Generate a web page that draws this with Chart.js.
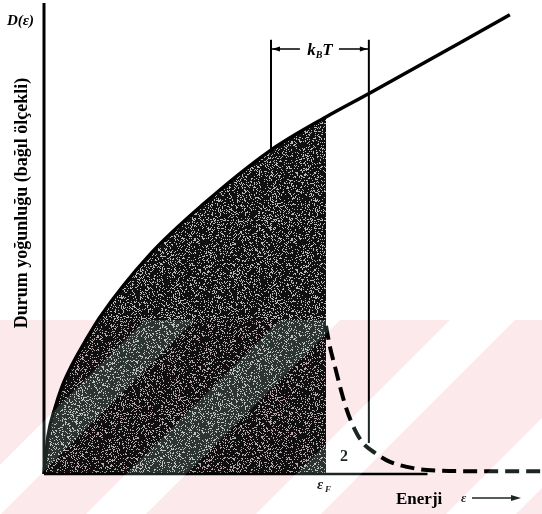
<!DOCTYPE html>
<html>
<head>
<meta charset="utf-8">
<script src="https://cdn.jsdelivr.net/npm/chart.js@4/dist/chart.umd.min.js"></script>
<style>
  html, body { margin: 0; padding: 0; background: #ffffff; }
  #wrap { width: 542px; height: 514px; position: relative; }
  canvas { display: block; }
</style>
</head>
<body>
<div id="wrap"><canvas id="c" width="542" height="514"></canvas></div>
<script>
// ---- Data (energy in units of eF, D in units of D(eF)) ----
const dosEnergy = [0, 0.014, 0.039, 0.064, 0.099, 0.145, 0.199, 0.376, 0.564, 0.801, 1.0, 1.156, 1.652];
const dosValue  = [0, 0.105, 0.185, 0.245, 0.305, 0.370, 0.440, 0.615, 0.755, 0.905, 1.0, 1.067, 1.286];
const fermiEnergy = 1.0;
const tailEnergy = [1.0, 1.014, 1.032, 1.050, 1.074, 1.103, 1.131, 1.174, 1.227, 1.287, 1.358, 1.511, 1.766];
const tailValue  = [0.415, 0.356, 0.300, 0.244, 0.179, 0.123, 0.087, 0.059, 0.034, 0.020, 0.011, 0.008, 0.008];
const kTEnergies = [0.805, 1.152];      // left / right kBT markers
const kTBottoms  = [0.906, 0.087];      // where each marker meets its curve
const kTTop = 1.216;
const kTArrowLevel = 1.19;
const baselineEnd = 1.36;
const axisMax = { x: 1.766, y: 1.319 };
const labels = {
  yTitle: 'Durum yoğunluğu (bağıl ölçekli)',
  yName: 'D(ε)',
  xTitle: 'Enerji',
  fermi: 'ε',
  fermiSub: 'F',
  region: '2',
  kT: ['k', 'B', 'T']
};

// ---- helpers ----
const pts = (xs, ys) => xs.map((x, i) => ({ x, y: ys[i] }));
const filledPts = pts(dosEnergy, dosValue).filter(p => p.x <= fermiEnergy);

function makeSpeckle() {
  const c = document.createElement('canvas');
  c.width = 97; c.height = 97;
  const g = c.getContext('2d');
  const img = g.createImageData(97, 97);
  for (let i = 0; i < 97 * 97; i++) {
    const h = (Math.imul(i + 17, 2654435761) ^ Math.imul(i >>> 3, 40503)) >>> 0;
    const light = (h % 100) < 21;
    const v = light ? 185 : 16;
    img.data[i * 4] = v; img.data[i * 4 + 1] = v; img.data[i * 4 + 2] = v; img.data[i * 4 + 3] = 255;
  }
  g.putImageData(img, 0, 0);
  return g;
}
const speckleCtx = makeSpeckle();
const ctxMain = document.getElementById('c').getContext('2d');
const shadePattern = ctxMain.createPattern(speckleCtx.canvas, 'repeat');

const SERIF = '"Liberation Serif", "DejaVu Serif", serif';

const decorPlugin = {
  id: 'decor',
  beforeDraw(chart) {
    const g = chart.ctx;
    g.save();
    g.fillStyle = '#ffffff';
    g.fillRect(0, 0, chart.width, chart.height);
    g.restore();
  },
  afterDatasetsDraw(chart) {
    const g = chart.ctx;
    const xs = chart.scales.x, ys = chart.scales.y;
    g.save();
    g.fillStyle = '#000'; g.strokeStyle = '#000';
    // kBT arrows
    const yA = ys.getPixelForValue(kTArrowLevel);
    const xL = xs.getPixelForValue(kTEnergies[0]);
    const xR = xs.getPixelForValue(kTEnergies[1]);
    const xc = (xL + xR) / 2;
    g.lineWidth = 1.5;
    g.beginPath();
    g.moveTo(xL, yA); g.lineTo(xc - 20, yA);
    g.moveTo(xc + 19, yA); g.lineTo(xR, yA);
    g.stroke();
    const head = (x, dir) => {
      g.beginPath();
      g.moveTo(x, yA);
      g.lineTo(x + dir * 8, yA - 2.5);
      g.lineTo(x + dir * 8, yA + 2.5);
      g.closePath(); g.fill();
    };
    head(xL + 1, 1); head(xR - 1, -1);
    // kBT text
    g.textBaseline = 'alphabetic';
    g.font = 'italic bold 17px ' + SERIF;
    const wk = g.measureText(labels.kT[0]).width;
    g.font = 'italic bold 10px ' + SERIF;
    const wb = g.measureText(labels.kT[1]).width;
    g.font = 'italic bold 17px ' + SERIF;
    const wt = g.measureText(labels.kT[2]).width;
    let tx = xc - (wk + wb + wt) / 2;
    const tb = yA + 6;
    g.fillText(labels.kT[0], tx, tb); tx += wk;
    g.font = 'italic bold 10px ' + SERIF;
    g.fillText(labels.kT[1], tx, tb + 3); tx += wb;
    g.font = 'italic bold 17px ' + SERIF;
    g.fillText(labels.kT[2], tx, tb);
    // D(e)
    g.font = 'italic bold 15px ' + SERIF;
    g.textAlign = 'left';
    g.fillText(labels.yName, 7, 25);
    // y title
    g.save();
    g.translate(27, 203);
    g.rotate(-Math.PI / 2);
    g.textAlign = 'center';
    g.font = 'bold 18px ' + SERIF;
    g.fillText(labels.yTitle, 0, 0);
    g.restore();
    // eF label
    const xF = xs.getPixelForValue(fermiEnergy);
    g.font = 'italic bold 15px ' + SERIF;
    g.textAlign = 'left';
    g.fillText(labels.fermi, xF - 9, 489);
    g.font = 'italic bold 9px ' + SERIF;
    g.fillText(labels.fermiSub, xF - 1, 492);
    // region label 2
    g.font = 'bold 16px ' + SERIF;
    g.fillText(labels.region, xF + 14, 461);
    // Enerji  e --->
    g.font = 'bold 17px ' + SERIF;
    g.fillText(labels.xTitle, 396, 504);
    g.font = 'italic bold 13px ' + SERIF;
    g.fillText('ε', 461, 502);
    g.lineWidth = 1.5;
    g.beginPath(); g.moveTo(472, 498); g.lineTo(514, 498); g.stroke();
    g.beginPath(); g.moveTo(521, 498); g.lineTo(511, 495); g.lineTo(511, 501); g.closePath(); g.fill();
    g.restore();
  },
  afterDraw(chart) {
    // scanned watermark band (pink with light diagonal stripes)
    const W = chart.width, H = chart.height, top = 320;
    const stripes = [[465, 515], [600, 660], [770, 835], [960, 1030]];
    const drawStripes = (g) => {
      stripes.forEach(([c1, c2]) => {
        g.beginPath();
        g.moveTo(c1 - top, top); g.lineTo(c2 - top, top);
        g.lineTo(c2 - H, H); g.lineTo(c1 - H, H);
        g.closePath(); g.fill();
      });
    };
    const m = document.createElement('canvas'); m.width = W; m.height = H;
    const mg = m.getContext('2d');
    mg.fillStyle = '#ffffff'; mg.fillRect(0, 0, W, H);
    mg.fillStyle = 'rgb(252,233,236)'; mg.fillRect(0, top, W, H - top);
    mg.fillStyle = '#ffffff'; drawStripes(mg);
    const s = document.createElement('canvas'); s.width = W; s.height = H;
    const sg = s.getContext('2d');
    sg.fillStyle = '#000'; sg.fillRect(0, 0, W, H);
    sg.fillStyle = 'rgb(30,38,36)';
    sg.save(); sg.beginPath(); sg.rect(0, top, W, H - top); sg.clip(); drawStripes(sg); sg.restore();
    const g = chart.ctx;
    g.save();
    g.globalCompositeOperation = 'screen';
    g.drawImage(s, 0, 0);
    g.globalCompositeOperation = 'multiply';
    g.drawImage(m, 0, 0);
    g.restore();
  }
};

new Chart(ctxMain, {
  type: 'scatter',
  data: {
    datasets: [
      { // occupied states at T = 0 (shaded)
        data: filledPts, showLine: true, fill: 'origin',
        backgroundColor: shadePattern, borderWidth: 0, pointRadius: 0,
        cubicInterpolationMode: 'monotone', clip: false, order: 5
      },
      { // density of states curve
        data: pts(dosEnergy, dosValue), showLine: true, fill: false,
        borderColor: '#000', borderWidth: 3.5, pointRadius: 0,
        cubicInterpolationMode: 'monotone', clip: false, order: 1
      },
      { // finite-temperature tail (dashed)
        data: pts(tailEnergy, tailValue), showLine: true, fill: false,
        borderColor: '#000', borderWidth: 4, borderDash: [14, 7], pointRadius: 0,
        cubicInterpolationMode: 'monotone', clip: false, order: 1
      },
      { // y axis line
        data: [{ x: 0, y: 0 }, { x: 0, y: axisMax.y }], showLine: true,
        borderColor: '#000', borderWidth: 3, pointRadius: 0, clip: false, order: 0
      },
      { // baseline
        data: [{ x: 0, y: 0 }, { x: baselineEnd, y: 0 }], showLine: true,
        borderColor: '#000', borderWidth: 2.5, pointRadius: 0, clip: false, order: 0
      },
      { // kBT left marker
        data: [{ x: kTEnergies[0], y: kTBottoms[0] }, { x: kTEnergies[0], y: kTTop }], showLine: true,
        borderColor: '#000', borderWidth: 2, pointRadius: 0, clip: false, order: 0
      },
      { // kBT right marker
        data: [{ x: kTEnergies[1], y: kTBottoms[1] }, { x: kTEnergies[1], y: kTTop }], showLine: true,
        borderColor: '#000', borderWidth: 2, pointRadius: 0, clip: false, order: 0
      }
    ]
  },
  options: {
    responsive: false,
    animation: false,
    devicePixelRatio: 1,
    layout: { padding: { left: 44, top: 3, right: 0, bottom: 40 } },
    plugins: { legend: { display: false }, tooltip: { enabled: false }, title: { display: false } },
    scales: {
      x: { type: 'linear', min: 0, max: axisMax.x, display: false },
      y: { type: 'linear', min: 0, max: axisMax.y, display: false }
    }
  },
  plugins: [decorPlugin]
});
</script>
</body>
</html>
